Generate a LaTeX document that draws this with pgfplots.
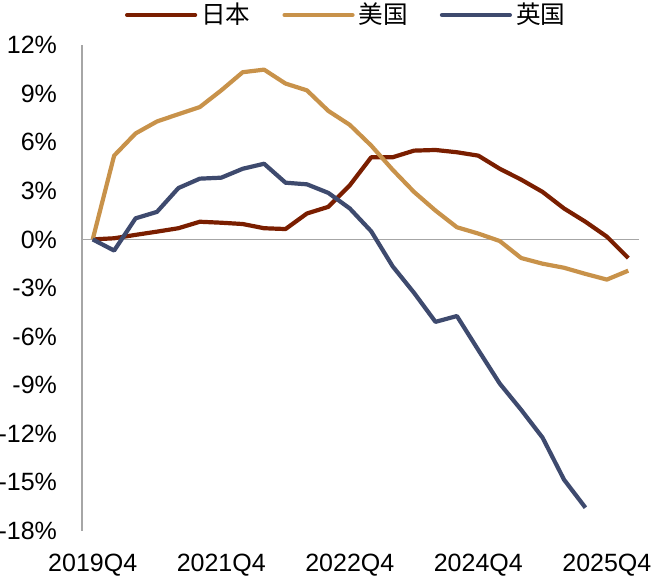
\documentclass[border=0pt]{standalone}
\usepackage{pgfplots}
\pgfplotsset{compat=1.18}
\usepackage{fontspec}
\setmainfont{Liberation Sans}
\newfontfamily\cjk{Noto Sans CJK SC}
\definecolor{jp}{HTML}{7A1E00}
\definecolor{us}{HTML}{C8924A}
\definecolor{uk}{HTML}{3E4A6E}
\definecolor{ax}{HTML}{A6A6A6}
\begin{document}
\begin{tikzpicture}
\begin{axis}[
  scale only axis,
  width=278.5pt, height=243pt,
  xmin=-0.5, xmax=25.5,
  ymin=-18, ymax=12,
  axis x line*=bottom, axis y line*=left,
  x axis line style={draw=none},
  y axis line style={draw=ax, line width=0.9pt},
  tick style={draw=none},
  xtick={0,6,12,18,24},
  xticklabels={2019Q4,2021Q4,2022Q4,2024Q4,2025Q4},
  ytick={-18,-15,-12,-9,-6,-3,0,3,6,9,12},
  yticklabels={-18\%,-15\%,-12\%,-9\%,-6\%,-3\%,0\%,3\%,6\%,9\%,12\%},
  ticklabel style={font=\fontsize{12.5}{15}\selectfont},
  yticklabel style={xshift=-9pt, overlay},
  xticklabel style={yshift=-8pt, overlay},
  legend columns=3,
  legend style={draw=none, fill=none, at={(0.476,1)}, anchor=center, yshift=15pt,
    font=\cjk\fontsize{12.3}{14}\selectfont, overlay,
    /tikz/every even column/.append style={column sep=14pt}},
  legend image code/.code={\draw[#1, line cap=round] (0pt,0pt) -- (34pt,0pt);},
  every axis plot/.append style={line width=2.1pt, line join=round},
]
\addplot[ax, line width=0.9pt, forget plot] coordinates {(-0.55,0) (25.5,0)};
\addplot[jp] coordinates {
(0,0) (1,0.07) (2,0.28) (3,0.48) (4,0.69) (5,1.09) (6,1.03) (7,0.95) (8,0.69) (9,0.64)
(10,1.6) (11,2.01) (12,3.34) (13,5.07) (14,5.07) (15,5.48) (16,5.52) (17,5.38) (18,5.17)
(19,4.36) (20,3.69) (21,2.93) (22,1.91) (23,1.09) (24,0.17) (25,-1.15)};
\addlegendentry{日本}
\addplot[us] coordinates {
(0,0) (1,5.17) (2,6.54) (3,7.28) (4,7.73) (5,8.17) (6,9.2) (7,10.32) (8,10.48) (9,9.62)
(10,9.2) (11,7.93) (12,7.07) (13,5.79) (14,4.3) (15,2.93) (16,1.78) (17,0.75) (18,0.36)
(19,-0.1) (20,-1.15) (21,-1.5) (22,-1.75) (23,-2.13) (24,-2.48) (25,-1.93)};
\addlegendentry{美国}
\addplot[uk] coordinates {
(0,0) (1,-0.69) (2,1.3) (3,1.7) (4,3.17) (5,3.75) (6,3.81) (7,4.36) (8,4.67) (9,3.5)
(10,3.4) (11,2.87) (12,1.91) (13,0.5) (14,-1.66) (15,-3.3) (16,-5.09) (17,-4.73) (18,-6.83)
(19,-8.9) (20,-10.52) (21,-12.24) (22,-14.83) (23,-16.56)};
\addlegendentry{英国}
\end{axis}
\path (current axis.south west) ++(-41pt,-27.5pt) rectangle ++(335pt,293pt);
\end{tikzpicture}
\end{document}
